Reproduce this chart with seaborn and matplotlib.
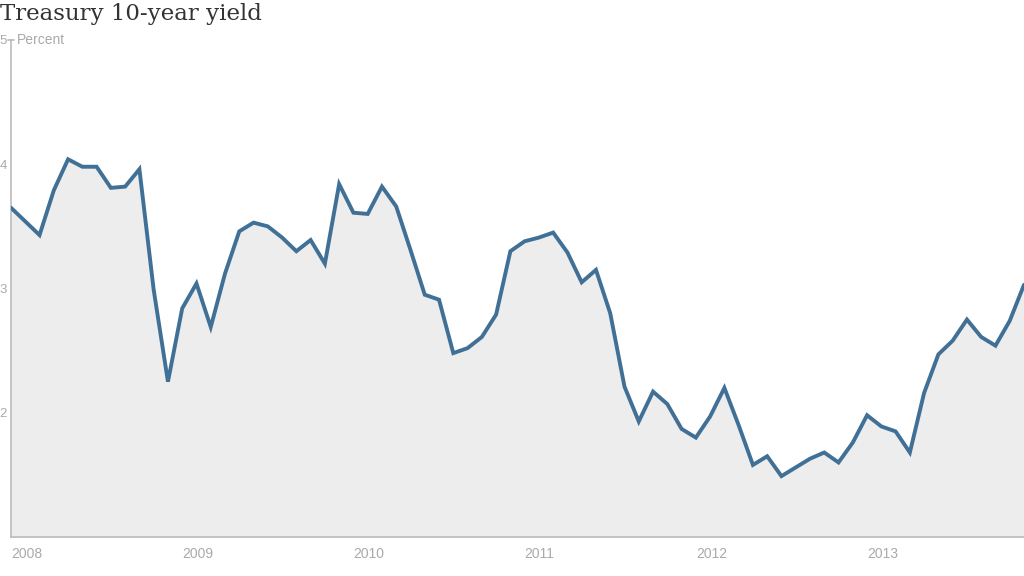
import numpy as np
import pandas as pd
import matplotlib
matplotlib.use("Agg")
import matplotlib.pyplot as plt
import seaborn as sns

title = "Treasury 10-year yield"
unit_label = "Percent"
start_year = 2008
year_ticks = [2008, 2009, 2010, 2011, 2012, 2013]
y_ticks = [2, 3, 4, 5]

yields = [3.65, 3.54, 3.43, 3.79, 4.04, 3.98, 3.98, 3.81, 3.82, 3.96, 2.99, 2.25,
          2.84, 3.04, 2.69, 3.12, 3.46, 3.53, 3.50, 3.41, 3.30, 3.39, 3.20, 3.84,
          3.61, 3.60, 3.82, 3.66, 3.31, 2.95, 2.91, 2.48, 2.52, 2.61, 2.79, 3.30,
          3.38, 3.41, 3.45, 3.29, 3.05, 3.15, 2.80, 2.21, 1.93, 2.17, 2.07, 1.87,
          1.80, 1.97, 2.20, 1.90, 1.58, 1.65, 1.49, 1.56, 1.63, 1.68, 1.60, 1.76,
          1.98, 1.89, 1.85, 1.68, 2.16, 2.47, 2.58, 2.75, 2.61, 2.54, 2.74, 3.03]

t = start_year + np.arange(len(yields)) / 12.0
df = pd.DataFrame({"t": t, "yield": yields})

sns.set_theme(style="white")
plt.rcParams["font.family"] = ["Liberation Sans Narrow", "Liberation Sans", "DejaVu Sans"]

fig = plt.figure(figsize=(10.24, 5.76), dpi=100)
ax = fig.add_axes([11 / 1024, 1 - 537 / 576, 1 - 11 / 1024, (537 - 40) / 576])

ymin = 1.0
ax.fill_between(df["t"], ymin, df["yield"], color="#ededed", lw=0, zorder=1)
sns.lineplot(data=df, x="t", y="yield", ax=ax, color="#417096", lw=2.8,
             solid_joinstyle="miter", zorder=3)

ax.set_xlim(df["t"].iloc[0], df["t"].iloc[-1])
ax.set_ylim(ymin, 5)
ax.set_xlabel("")
ax.set_ylabel("")

grey = "#aaaaaa"
for s in ["top", "right"]:
    ax.spines[s].set_visible(False)
for s in ["left", "bottom"]:
    ax.spines[s].set_color("#bbbbbb")
    ax.spines[s].set_linewidth(1.2)

ax.set_xticks(year_ticks)
ax.set_xticklabels([str(y) for y in year_ticks], ha="left")
ax.tick_params(axis="x", length=0, pad=7, labelsize=10, colors=grey)

ax.set_yticks(y_ticks)
ax.set_yticklabels([str(v) for v in y_ticks])
ax.tick_params(axis="y", length=0, pad=3, labelsize=9.5, colors=grey)
ax.plot([df["t"].iloc[0] - 0.017, df["t"].iloc[0] + 0.017], [5, 5], color="#bbbbbb",
        lw=1.2, clip_on=False, zorder=4)
ax.text(df["t"].iloc[0] + 0.035, 5, unit_label, ha="left", va="center",
        fontsize=10, color=grey)

fig.text(0.0, 0.995, title, ha="left", va="top", fontsize=16.5,
         family=["DejaVu Serif"], color="#333333")

fig.savefig("out.png", dpi=100, facecolor="white")
